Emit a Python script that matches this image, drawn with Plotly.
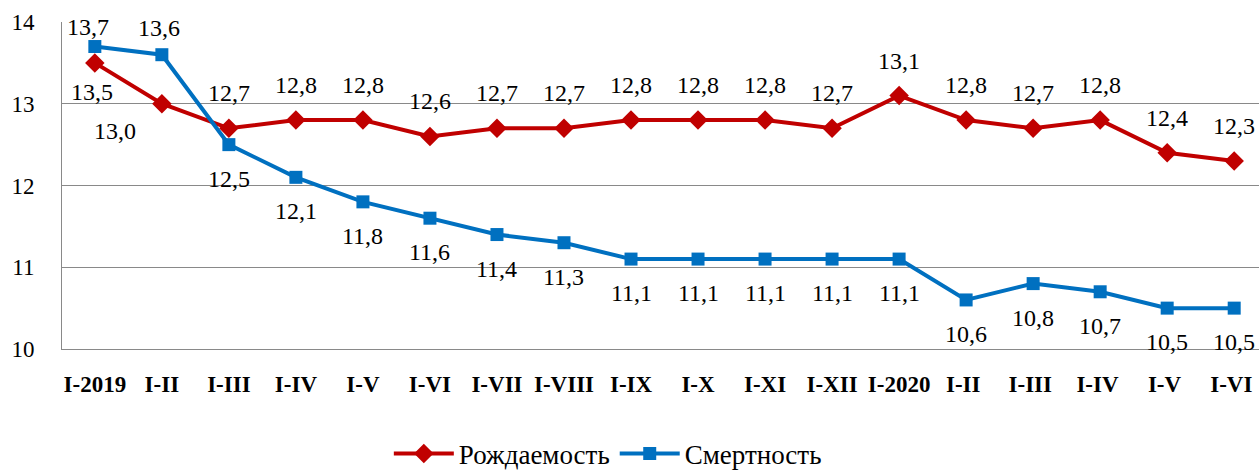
import plotly.graph_objects as go

categories = ["I-2019", "I-II", "I-III", "I-IV", "I-V", "I-VI", "I-VII", "I-VIII", "I-IX",
              "I-X", "I-XI", "I-XII", "I-2020", "I-II ", "I-III ", "I-IV ", "I-V ", "I-VI "]
birth = [13.5, 13.0, 12.7, 12.8, 12.8, 12.6, 12.7, 12.7, 12.8, 12.8, 12.8, 12.7, 13.1, 12.8, 12.7, 12.8, 12.4, 12.3]
death = [13.7, 13.6, 12.5, 12.1, 11.8, 11.6, 11.4, 11.3, 11.1, 11.1, 11.1, 11.1, 11.1, 10.6, 10.8, 10.7, 10.5, 10.5]
y_ticks = [10, 11, 12, 13, 14]

# label offsets (style): pixel shifts of the data labels relative to their points
birth_shift = [(-3, -29), (-47, -27)] + [(0, 35)] * (len(birth) - 2)
death_shift = [(-7, 20), (-3, 27)] + [(0, -34)] * (len(death) - 2)

SERIF = "Liberation Serif, Times New Roman, serif"

def fmt(v):
    return f"{v:.1f}".replace(".", ",")

fig = go.Figure()
fig.add_trace(go.Scatter(
    x=categories, y=birth, name="Рождаемость", mode="lines+markers",
    line=dict(color="#C00000", width=4),
    marker=dict(symbol="diamond", size=15, color="#C00000"),
))
fig.add_trace(go.Scatter(
    x=categories, y=death, name="Смертность", mode="lines+markers",
    line=dict(color="#0070C0", width=4),
    marker=dict(symbol="square", size=13, color="#0070C0"),
))

for series, shifts in ((birth, birth_shift), (death, death_shift)):
    for cat, val, (dx, dy) in zip(categories, series, shifts):
        fig.add_annotation(x=cat, y=val, text=fmt(val), showarrow=False,
                           xshift=dx, yshift=dy,
                           font=dict(family=SERIF, size=24, color="#000000"))

fig.update_layout(
    width=1259, height=470,
    margin=dict(l=62, r=0, t=22, b=121),
    plot_bgcolor="white", paper_bgcolor="white",
    font=dict(family=SERIF, color="#000000"),
    showlegend=True,
    legend=dict(orientation="h", x=0.456, xanchor="center", yref="container",
                y=0.034, yanchor="middle",
                font=dict(family=SERIF, size=27), itemwidth=60),
    xaxis=dict(type="category", showline=True, linecolor="#898989", linewidth=1,
               showgrid=False, ticks="", range=[-0.49, 17.37], automargin=False,
               tickfont=dict(family=SERIF, size=23, weight="bold"),
               ticklabelstandoff=14),
    yaxis=dict(range=[10, 14], tickvals=y_ticks, showline=True, linecolor="#898989",
               linewidth=1, showgrid=True, gridcolor="#898989", gridwidth=1, zeroline=False,
               ticks="", automargin=False, tickfont=dict(family=SERIF, size=23),
               ticklabelstandoff=22),
)
fig.write_html(
    "out.html",
    config={"displayModeBar": False},
    post_script="document.body.style.margin='0';document.body.style.overflow='hidden';",
)
